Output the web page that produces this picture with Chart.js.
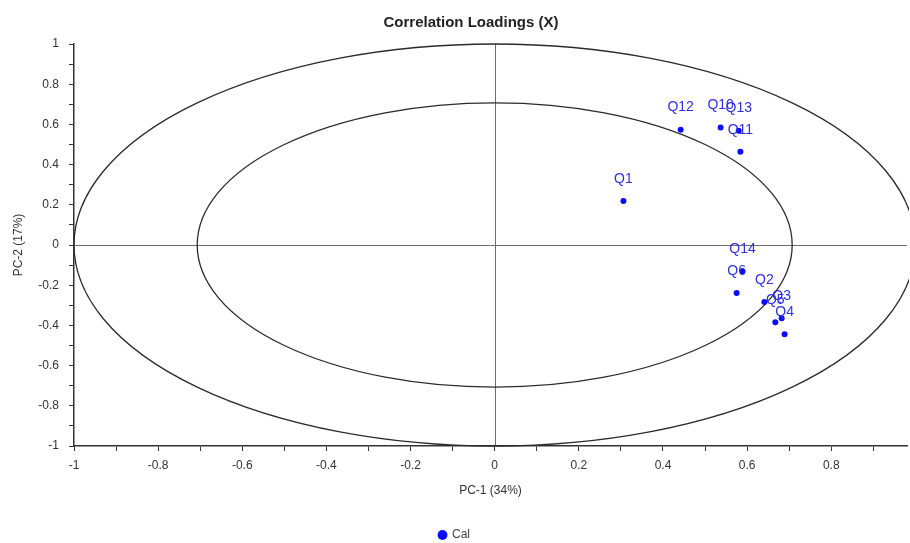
<!DOCTYPE html>
<html>
<head>
<meta charset="utf-8">
<script src="https://cdn.jsdelivr.net/npm/chart.js@4.4.0/dist/chart.umd.min.js"></script>
<style>
  html, body { margin: 0; padding: 0; background: #ffffff; }
  #wrap { position: relative; width: 910px; height: 543px; }
</style>
</head>
<body>
<div id="wrap"><canvas id="c" width="910" height="543"></canvas></div>
<script>
// ---- Data ----
const variableNames = ['Q1', 'Q2', 'Q3', 'Q4', 'Q5', 'Q6', 'Q10', 'Q11', 'Q12', 'Q13', 'Q14'];
const pc1Loadings  = [0.306, 0.641, 0.682, 0.689, 0.667, 0.575, 0.537, 0.584, 0.442, 0.580, 0.589];
const pc2Loadings  = [0.219, -0.284, -0.364, -0.444, -0.384, -0.239, 0.584, 0.464, 0.574, 0.569, -0.130];

const seriesName = 'Cal';
const chartTitle = 'Correlation Loadings (X)';
const xAxisTitle = 'PC-1 (34%)';
const yAxisTitle = 'PC-2 (17%)';

const xTickValues = [-1, -0.9, -0.8, -0.7, -0.6, -0.5, -0.4, -0.3, -0.2, -0.1, 0, 0.1, 0.2, 0.3, 0.4, 0.5, 0.6, 0.7, 0.8, 0.9];
const xTickLabels = ['-1', '', '-0.8', '', '-0.6', '', '-0.4', '', '-0.2', '', '0', '', '0.2', '', '0.4', '', '0.6', '', '0.8', ''];
const yTickValues = [-1, -0.9, -0.8, -0.7, -0.6, -0.5, -0.4, -0.3, -0.2, -0.1, 0, 0.1, 0.2, 0.3, 0.4, 0.5, 0.6, 0.7, 0.8, 0.9, 1];
const yTickLabels = ['-1', '', '-0.8', '', '-0.6', '', '-0.4', '', '-0.2', '', '0', '', '0.2', '', '0.4', '', '0.6', '', '0.8', '', '1'];

// Correlation-loading reference ellipses (radius in loading units): 100% and 50% explained variance
const ellipseRadii = [1, Math.SQRT1_2];

const FONT = "'Liberation Sans', Arial, sans-serif";
const points = pc1Loadings.map((x, i) => ({ x: x, y: pc2Loadings[i] }));

const guidesPlugin = {
  id: 'guides',
  beforeDatasetsDraw(chart) {
    const { ctx, chartArea, scales: { x, y } } = chart;
    const cx = x.getPixelForValue(0), cy = y.getPixelForValue(0);
    ctx.save();
    ctx.beginPath();
    ctx.rect(chartArea.left, chartArea.top - 1, chartArea.right - chartArea.left + 2, chartArea.bottom - chartArea.top + 2);
    ctx.clip();
    // crosshair
    ctx.strokeStyle = '#6e6e6e';
    ctx.lineWidth = 1;
    ctx.beginPath();
    ctx.moveTo(chartArea.left, Math.round(cy) + 0.5);
    ctx.lineTo(chartArea.right, Math.round(cy) + 0.5);
    ctx.moveTo(Math.round(cx) + 0.5, chartArea.top);
    ctx.lineTo(Math.round(cx) + 0.5, chartArea.bottom);
    ctx.stroke();
    // ellipses
    ctx.strokeStyle = '#2b2b2b';
    ctx.lineWidth = 1.3;
    ellipseRadii.forEach(r => {
      const rx = x.getPixelForValue(r) - cx;
      const ry = cy - y.getPixelForValue(r);
      ctx.beginPath();
      ctx.ellipse(cx, cy, rx, ry, 0, 0, Math.PI * 2);
      ctx.stroke();
    });
    ctx.restore();
  },
  afterDatasetsDraw(chart) {
    const { ctx } = chart;
    const meta = chart.getDatasetMeta(0);
    ctx.save();
    ctx.font = '14px ' + FONT;
    ctx.fillStyle = '#2f2fe0';
    ctx.textAlign = 'center';
    ctx.textBaseline = 'middle';
    meta.data.forEach((el, i) => {
      ctx.fillText(variableNames[i], el.x, el.y - 22);
    });
    ctx.restore();
  },
  afterDraw(chart) {
    const { ctx } = chart;
    ctx.save();
    ctx.font = 'bold 15px ' + FONT;
    ctx.fillStyle = '#222';
    ctx.textAlign = 'center';
    ctx.textBaseline = 'middle';
    ctx.fillText(chartTitle, chart.width / 2 + 16, 23);
    ctx.restore();
  }
};

new Chart(document.getElementById('c'), {
  type: 'scatter',
  data: {
    datasets: [{
      label: seriesName,
      data: points,
      backgroundColor: '#0a0aff',
      borderColor: '#0a0aff',
      pointRadius: 3,
      pointHoverRadius: 3,
      pointBorderWidth: 0
    }]
  },
  options: {
    responsive: false,
    animation: false,
    events: [],
    layout: { padding: { top: 44, right: 1, left: 0, bottom: -8 } },
    plugins: {
      title: { display: false },
      tooltip: { enabled: false },
      legend: {
        display: true,
        position: 'bottom',
        labels: {
          usePointStyle: true,
          pointStyle: 'circle',
          boxHeight: 7,
          boxWidth: 7,
          padding: 2,
          color: '#444',
          font: { family: FONT, size: 12 }
        }
      }
    },
    scales: {
      x: {
        type: 'linear',
        min: -1,
        max: 0.98,
        afterBuildTicks: (scale) => { scale.ticks = xTickValues.map(v => ({ value: v })); },
        afterFit: (scale) => { scale.height = 81; },
        ticks: {
          autoSkip: false,
          maxRotation: 0,
          minRotation: 0,
          padding: 7,
          color: '#333',
          font: { family: FONT, size: 12 },
          callback: (v, i) => xTickLabels[i]
        },
        grid: { drawOnChartArea: false, drawTicks: true, tickLength: 5, color: '#333', tickColor: '#333' },
        border: { display: true, color: '#333', width: 1.5 },
        title: { display: true, text: xAxisTitle, color: '#333', font: { family: FONT, size: 12 }, padding: { top: 0, bottom: 29 } }
      },
      y: {
        type: 'linear',
        min: -1,
        max: 1,
        afterBuildTicks: (scale) => { scale.ticks = yTickValues.map(v => ({ value: v })); },
        afterFit: (scale) => { scale.width = 74; },
        ticks: {
          autoSkip: false,
          padding: 10,
          color: '#333',
          font: { family: FONT, size: 12 },
          callback: (v, i) => yTickLabels[i]
        },
        grid: { drawOnChartArea: false, drawTicks: true, tickLength: 5, color: '#333', tickColor: '#333' },
        border: { display: true, color: '#333', width: 1.5 },
        title: { display: true, text: yAxisTitle, color: '#333', font: { family: FONT, size: 12 }, padding: { top: 11, bottom: 0 } }
      }
    }
  },
  plugins: [guidesPlugin]
});
</script>
</body>
</html>
